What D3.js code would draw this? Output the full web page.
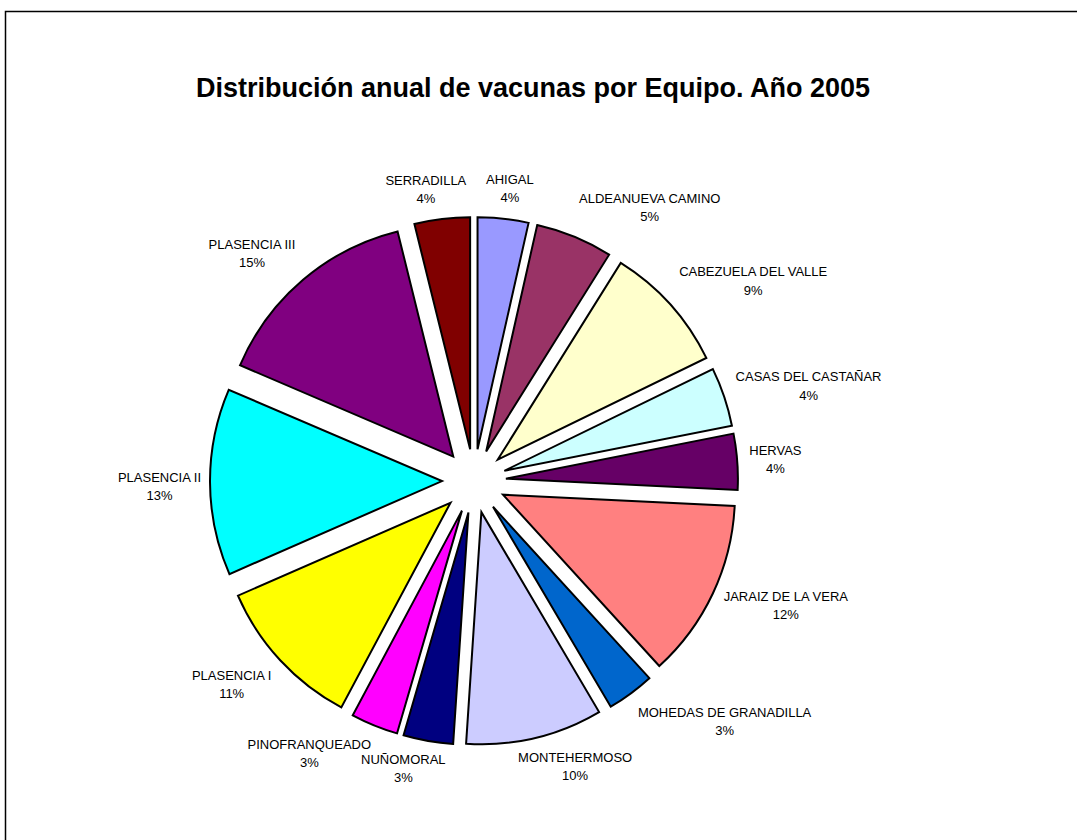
<!DOCTYPE html>
<html lang="es">
<head>
<meta charset="utf-8">
<title>Distribución anual de vacunas por Equipo. Año 2005</title>
<script src="https://cdn.jsdelivr.net/npm/d3@7"></script>
<style>
  html, body { margin: 0; padding: 0; background: #ffffff; }
  svg { display: block; }
  text { font-family: Arial, "Liberation Sans", Helvetica, sans-serif; }
</style>
</head>
<body>
<div id="chart"></div>
<script>
// ----------------------------------------------------------
// Data (share of yearly vaccines per team)
// ----------------------------------------------------------
const equipos = [
  "AHIGAL", "ALDEANUEVA CAMINO", "CABEZUELA DEL VALLE", "CASAS DEL CASTAÑAR",
  "HERVAS", "JARAIZ DE LA VERA", "MOHEDAS DE GRANADILLA", "MONTEHERMOSO",
  "NUÑOMORAL", "PINOFRANQUEADO", "PLASENCIA I", "PLASENCIA II",
  "PLASENCIA III", "SERRADILLA"
];

const valores = [
  3.53, 5.36, 8.89, 4.11,
  3.89, 12.45, 3.30, 9.52,
  3.46, 3.29, 10.64, 13.00,
  14.70, 3.86
];

const colores = [
  "#9999ff", "#993366", "#ffffcc", "#ccffff",
  "#660066", "#ff8080", "#0066cc", "#ccccff",
  "#000080", "#ff00ff", "#ffff00", "#00ffff",
  "#800080", "#800000"
];

const titulo = "Distribución anual de vacunas por Equipo. Año 2005";

// small hand tweaks where Excel pushed labels apart
const labelNudge = {
  "ALDEANUEVA CAMINO": [17, 0],
  "JARAIZ DE LA VERA": [0, -3],
  "MONTEHERMOSO": [11, -2],
  "NUÑOMORAL": [-8, -3],
  "PINOFRANQUEADO": [-14, -2],
  "PLASENCIA II": [3, 4],
  "SERRADILLA": [-5, 1]
};

document.addEventListener("DOMContentLoaded", renderChart);

function renderChart() {
  const width = 1077;
  const height = 840;

  const cx = 474, cy = 481;   // pie centre
  const radius = 232;         // slice radius
  const explode = 32;         // offset of each slice
  const labelGap = 12;
  const lineH = 18.5;

  const svg = d3.select("#chart")
    .append("svg")
    .attr("width", width)
    .attr("height", height);

  // ------------------------------------------------------
  // 1) Frame + title
  // ------------------------------------------------------
  svg.append("rect")
    .attr("x", 5.5)
    .attr("y", 11.5)
    .attr("width", width + 50)
    .attr("height", height + 50)
    .attr("fill", "#ffffff")
    .attr("stroke", "#000000")
    .attr("stroke-width", 1.5);

  svg.append("text")
    .attr("x", 533)
    .attr("y", 97)
    .attr("text-anchor", "middle")
    .attr("font-size", 27)
    .attr("font-weight", "bold")
    .attr("fill", "#000000")
    .text(titulo);

  // ------------------------------------------------------
  // 2) Pie layout
  // ------------------------------------------------------
  const data = equipos.map((name, i) => ({ name, value: valores[i], color: colores[i] }));
  const total = d3.sum(valores);

  const pie = d3.pie()
    .sort(null)
    .value(d => d.value);

  const arc = d3.arc()
    .innerRadius(0)
    .outerRadius(radius);

  const arcs = pie(data);
  const mid = d => (d.startAngle + d.endAngle) / 2;

  const g = svg.append("g")
    .attr("transform", `translate(${cx},${cy})`);

  g.selectAll(".slice")
    .data(arcs)
    .enter()
    .append("path")
    .attr("class", "slice")
    .attr("transform", d => {
      const a = mid(d);
      return `translate(${explode * Math.sin(a)},${-explode * Math.cos(a)})`;
    })
    .attr("d", arc)
    .attr("fill", d => d.data.color)
    .attr("stroke", "#000000")
    .attr("stroke-width", 2)
    .attr("stroke-linejoin", "miter");

  // ------------------------------------------------------
  // 3) Labels: name + percentage outside each slice
  // ------------------------------------------------------
  const clamp = v => Math.max(-1, Math.min(1, v));

  const labels = g.selectAll(".label")
    .data(arcs)
    .enter()
    .append("g")
    .attr("class", "label");

  labels.append("text")
    .attr("class", "lname")
    .attr("text-anchor", "middle")
    .attr("font-size", 13)
    .attr("fill", "#000000")
    .text(d => d.data.name);

  labels.append("text")
    .attr("class", "lpct")
    .attr("text-anchor", "middle")
    .attr("font-size", 13)
    .attr("fill", "#000000")
    .text(d => Math.round(d.data.value / total * 100) + "%");

  labels.each(function (d) {
    const a = mid(d);
    const s = Math.sin(a), c = Math.cos(a);
    const node = d3.select(this);
    const w = node.select(".lname").node().getComputedTextLength();
    const r = radius + explode + labelGap;
    const nudge = labelNudge[d.data.name] || [0, 0];

    const x = r * s + (w / 2) * clamp(2 * s) + nudge[0];
    const y = -r * c - lineH * clamp(1.25 * c) + nudge[1];

    node.select(".lname").attr("x", x).attr("y", y - 4.5);
    node.select(".lpct").attr("x", x).attr("y", y + 13.9);
  });
}
</script>
</body>
</html>
